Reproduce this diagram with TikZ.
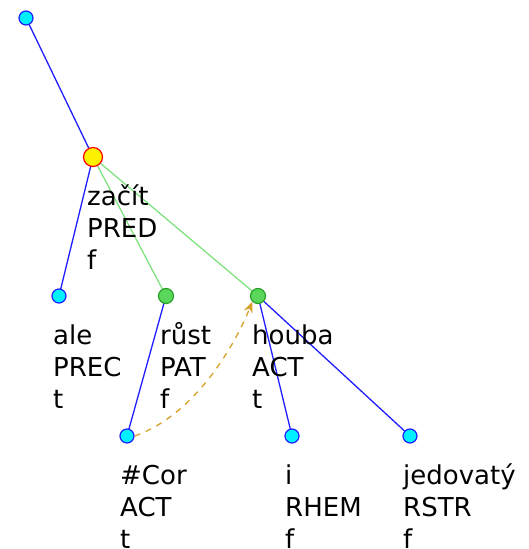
\documentclass[tikz,border=0pt]{standalone}
\usepackage{fontspec}
\setmainfont{DejaVu Sans}
\usetikzlibrary{arrows.meta}
\definecolor{cyanfill}{RGB}{0,240,255}
\definecolor{bluedge}{RGB}{30,30,255}
\definecolor{greenfill}{RGB}{90,215,90}
\definecolor{greenline}{RGB}{40,160,40}
\definecolor{greenedge}{RGB}{120,225,120}
\definecolor{gold}{RGB}{215,160,40}
\tikzset{
  leaf/.style={circle,draw=bluedge,fill=cyanfill,line width=1.2pt,inner sep=0pt,minimum size=14pt},
  gnode/.style={circle,draw=greenline,fill=greenfill,line width=1.2pt,inner sep=0pt,minimum size=15pt},
  ynode/.style={circle,draw=red,fill=yellow,line width=1.2pt,inner sep=0pt,minimum size=19pt},
  lbl/.style={anchor=base west,inner sep=0pt,align=left,font=\fontsize{26}{32}\selectfont},
  bedge/.style={draw=bluedge,line width=1.3pt},
  gedge/.style={draw=greenedge,line width=1.2pt},
  coref/.style={draw=gold,line width=1.3pt,dash pattern=on 6pt off 6pt,-{Stealth[length=11pt,width=9pt]}}
}
\begin{document}
\begin{tikzpicture}[x=1pt,y=-1pt]
\useasboundingbox (0,0) rectangle (528,549);
\clip (0,0) rectangle (528,549);
\coordinate (rootc) at (26,18);
\coordinate (zacitc) at (93,157);
\coordinate (alec) at (59,296);
\coordinate (rustc) at (166,296);
\coordinate (houbac) at (258,296);
\coordinate (corc) at (127,436);
\coordinate (ic) at (292,436);
\coordinate (jedc) at (410,436);
% edges
\draw[bedge] (rootc) -- (zacitc);
\draw[bedge] (zacitc) -- (alec);
\draw[gedge] (zacitc) -- (rustc);
\draw[gedge] (zacitc) -- (houbac);
\draw[bedge] (rustc) -- (corc);
\draw[bedge] (houbac) -- (ic);
\draw[bedge] (houbac) -- (jedc);
% nodes
\node[leaf] (root) at (rootc) {};
\node[ynode] (zacit) at (zacitc) {};
\node[leaf] (ale) at (alec) {};
\node[gnode] (rust) at (rustc) {};
\node[gnode] (houba) at (houbac) {};
\node[leaf] (cor) at (corc) {};
\node[leaf] (i) at (ic) {};
\node[leaf] (jed) at (jedc) {};
% coreference arrow
\draw[coref] (cor.east) .. controls (195,415) and (235,345) .. (houba.south west);
% labels (anchor at baseline of last line)
\node[lbl] (lzacit) at (87,269) {začít\\PRED\\f};
\node[lbl] (lale) at (53,408) {ale\\PREC\\t};
\node[lbl] (lrust) at (160,408) {růst\\PAT\\f};
\node[lbl] (lhouba) at (252,408) {houba\\ACT\\t};
\node[lbl] (lcor) at (120,548) {\#Cor\\ACT\\t};
\node[lbl] (li) at (285,548) {i\\RHEM\\f};
\node[lbl] (ljed) at (403,548) {jedovatý\\RSTR\\f};
\end{tikzpicture}
\end{document}
